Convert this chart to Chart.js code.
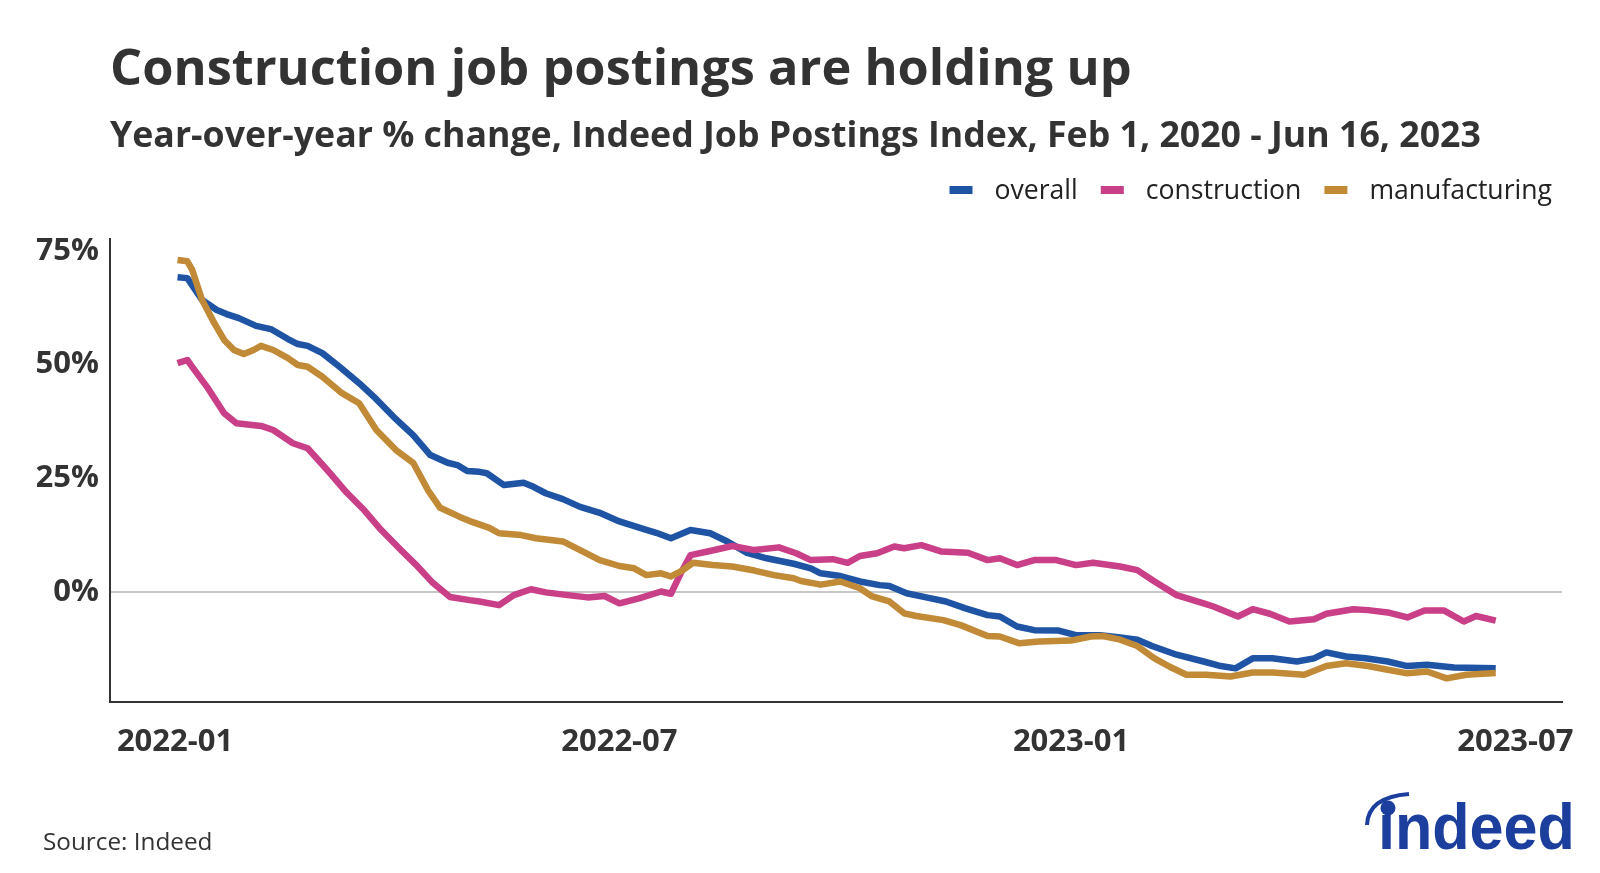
<!DOCTYPE html>
<html>
<head>
<meta charset="utf-8">
<script src="https://cdn.jsdelivr.net/npm/chart.js@4.4.1/dist/chart.umd.min.js"></script>
<style>
  html, body { margin: 0; padding: 0; background: #fff; }
  canvas { display: block; }
</style>
</head>
<body>
<canvas id="linechart" width="1600" height="873"></canvas>
<script>
/* Data: x = days since 2022-01-01, y = year-over-year % change */
const overallDays = [1, 5, 11, 17, 21, 26, 33, 39, 46, 50, 54, 60, 67, 75, 81, 89, 97, 104, 111, 115, 119, 124, 127, 134, 142, 146, 151, 158, 165, 173, 181, 191, 196, 202, 210, 218, 225, 233, 241, 252, 259, 263, 271, 279, 287, 291, 298, 306, 314, 322, 331, 336, 343, 350, 360, 367, 377, 385, 392, 398, 408, 419, 426, 432, 439, 447, 457, 464, 469, 477, 485, 494, 502, 510, 521, 538];
const overallValues = [69.2, 69.0, 64.2, 62.0, 61.1, 60.2, 58.5, 57.8, 55.6, 54.5, 54.1, 52.5, 49.5, 45.9, 42.9, 38.5, 34.5, 30.1, 28.4, 27.9, 26.6, 26.4, 26.1, 23.5, 24.0, 23.1, 21.7, 20.4, 18.7, 17.4, 15.5, 13.8, 13.0, 11.8, 13.6, 12.9, 11.1, 8.6, 7.4, 6.2, 5.2, 4.1, 3.5, 2.3, 1.5, 1.3, -0.3, -1.2, -2.1, -3.6, -5.1, -5.4, -7.6, -8.4, -8.5, -9.5, -9.5, -10.0, -10.5, -11.9, -13.8, -15.3, -16.3, -16.8, -14.6, -14.6, -15.3, -14.6, -13.3, -14.2, -14.6, -15.3, -16.3, -16.0, -16.6, -16.8];

const constructionDays = [1, 5, 7, 13, 20, 25, 35, 40, 48, 54, 62, 70, 77, 84, 92, 99, 105, 112, 120, 124, 132, 138, 145, 151, 160, 168, 175, 181, 189, 198, 202, 206, 210, 217, 227, 236, 246, 253, 259, 268, 274, 279, 286, 293, 297, 304, 312, 323, 331, 336, 343, 350, 359, 367, 374, 385, 392, 399, 408, 419, 423, 433, 439, 446, 454, 464, 469, 480, 486, 494, 502, 509, 517, 525, 530, 538];
const constructionValues = [50.3, 51.0, 49.5, 45.1, 39.3, 37.1, 36.5, 35.6, 32.7, 31.6, 26.8, 21.8, 18.0, 13.6, 9.2, 5.5, 2.0, -1.1, -1.8, -2.1, -2.9, -0.7, 0.6, -0.1, -0.7, -1.2, -0.9, -2.5, -1.4, 0.1, -0.4, 4.1, 8.1, 8.9, 10.1, 9.2, 9.8, 8.5, 7.0, 7.2, 6.4, 7.9, 8.5, 10.0, 9.6, 10.3, 8.9, 8.6, 7.0, 7.4, 5.9, 7.0, 7.0, 5.9, 6.4, 5.6, 4.8, 2.3, -0.7, -2.5, -3.2, -5.4, -3.8, -4.8, -6.5, -6.0, -4.8, -3.8, -4.0, -4.5, -5.6, -4.1, -4.1, -6.5, -5.3, -6.3];

const manufacturingDays = [1, 5, 7, 11, 16, 20, 24, 28, 32, 35, 40, 46, 50, 54, 60, 68, 75, 82, 90, 97, 103, 108, 116, 121, 128, 132, 141, 147, 153, 158, 165, 173, 181, 187, 192, 198, 202, 206, 211, 219, 227, 236, 244, 252, 255, 263, 271, 279, 284, 291, 297, 302, 313, 320, 331, 336, 344, 352, 365, 373, 378, 385, 392, 399, 405, 412, 420, 430, 439, 447, 460, 469, 477, 486, 494, 502, 510, 518, 526, 538];
const manufacturingValues = [73.0, 72.7, 70.8, 64.2, 59.1, 55.4, 53.2, 52.3, 53.2, 54.1, 53.2, 51.4, 49.9, 49.5, 47.3, 43.7, 41.5, 35.6, 31.2, 28.4, 22.4, 18.5, 16.5, 15.4, 14.1, 12.9, 12.5, 11.8, 11.4, 11.1, 9.2, 7.0, 5.7, 5.2, 3.7, 4.1, 3.4, 4.5, 6.4, 5.9, 5.6, 4.7, 3.7, 3.0, 2.4, 1.6, 2.3, 0.8, -1.0, -2.1, -4.7, -5.3, -6.2, -7.3, -9.7, -9.8, -11.3, -10.9, -10.7, -9.8, -9.7, -10.5, -11.9, -14.6, -16.4, -18.2, -18.2, -18.6, -17.7, -17.7, -18.2, -16.3, -15.7, -16.3, -17.1, -17.9, -17.5, -19.0, -18.2, -17.8];

const seriesNames = ['overall', 'construction', 'manufacturing'];
const seriesColors = ['#1f54a4', '#c93f88', '#c18a36'];

const xTickDays = [0, 181, 365, 546];
const xTickLabels = ['2022-01', '2022-07', '2023-01', '2023-07'];
const yTickValues = [0, 25, 50, 75];

const titleText = 'Construction job postings are holding up';
const subtitleText = 'Year-over-year % change, Indeed Job Postings Index, Feb 1, 2020 - Jun 16, 2023';
const sourceText = 'Source: Indeed';

/* Helpers */
function toPoints(days, values) {
  return days.map((d, i) => ({x: d, y: values[i]}));
}

const seriesDays = [overallDays, constructionDays, manufacturingDays];
const seriesValues = [overallValues, constructionValues, manufacturingValues];

// Titles, legend, source and logo drawn on the same canvas
const decor = {
  id: 'decor',
  afterDraw(chart) {
    const ctx = chart.ctx;
    ctx.save();
    ctx.textAlign = 'left';
    ctx.textBaseline = 'alphabetic';
    ctx.fillStyle = '#333';
    ctx.font = 'bold 50.5px "Open Sans"';
    ctx.fillText(titleText, 110, 85);
    ctx.font = 'bold 35.7px "Open Sans"';
    ctx.fillText(subtitleText, 110, 147);

    // legend, right aligned
    ctx.font = '26.6px "Open Sans"';
    let x = 1552;
    const sets = chart.data.datasets;
    for (let i = sets.length - 1; i >= 0; i--) {
      const w = ctx.measureText(sets[i].label).width;
      const tx = x - w;
      ctx.fillStyle = '#222';
      ctx.fillText(sets[i].label, tx, 199);
      const bx = tx - 22 - 23;
      ctx.fillStyle = sets[i].borderColor;
      ctx.fillRect(bx, 186, 23, 8);
      x = bx - 23;
    }

    ctx.fillStyle = '#333';
    ctx.font = '24.3px "Open Sans"';
    ctx.fillText(sourceText, 43, 850);

    // indeed logo
    ctx.fillStyle = '#1c3f9e';
    ctx.save();
    ctx.translate(1378, 849);
    ctx.scale(0.94, 1);
    ctx.font = 'bold 65px "Liberation Sans"';
    ctx.fillText('\u0131ndeed', 0, 0);
    ctx.restore();
    ctx.beginPath();
    ctx.arc(1388, 808, 7.5, 0, Math.PI * 2);
    ctx.fill();
    ctx.strokeStyle = '#1c3f9e';
    ctx.lineWidth = 4;
    ctx.beginPath();
    ctx.moveTo(1367, 825);
    ctx.quadraticCurveTo(1368, 797, 1409, 794);
    ctx.stroke();
    ctx.restore();
  }
};

const tickFont = {family: 'Open Sans', size: 31, weight: 'bold'};

new Chart('linechart', {
  type: 'line',
  data: {
    datasets: seriesNames.map((name, i) => ({
      label: name,
      data: toPoints(seriesDays[i], seriesValues[i]),
      borderColor: seriesColors[i],
      backgroundColor: seriesColors[i],
      borderWidth: 6.5,
      pointRadius: 0,
      tension: 0,
      fill: false,
      order: seriesNames.length - i
    }))
  },
  options: {
    responsive: false,
    animation: false,
    devicePixelRatio: 1,
    layout: {padding: {top: 239, left: 37, right: 38, bottom: 91}},
    elements: {line: {borderJoinStyle: 'round'}},
    plugins: {legend: {display: false}, tooltip: {enabled: false}},
    scales: {
      x: {
        type: 'linear',
        min: -26.5,
        max: 565,
        afterBuildTicks: (s) => { s.ticks = xTickDays.map((v) => ({value: v})); },
        afterFit: (s) => { s.height = 80; },
        ticks: {
          padding: 22,
          autoSkip: false,
          maxRotation: 0,
          color: '#333',
          font: tickFont,
          callback: (v, i) => xTickLabels[i]
        },
        grid: {display: false, drawTicks: false},
        border: {display: true, color: '#333', width: 2}
      },
      y: {
        min: -24.2,
        max: 77.6,
        afterBuildTicks: (s) => { s.ticks = yTickValues.map((v) => ({value: v})); },
        afterFit: (s) => { s.width = 73; },
        ticks: {
          padding: 11,
          color: '#333',
          font: tickFont,
          callback: (v) => v + '%'
        },
        grid: {
          drawTicks: false,
          lineWidth: 2,
          color: (c) => (c.tick && c.tick.value === 0 ? '#c8c8c8' : 'rgba(0,0,0,0)')
        },
        border: {display: true, color: '#333', width: 2}
      }
    }
  },
  plugins: [decor]
});
</script>
</body>
</html>
